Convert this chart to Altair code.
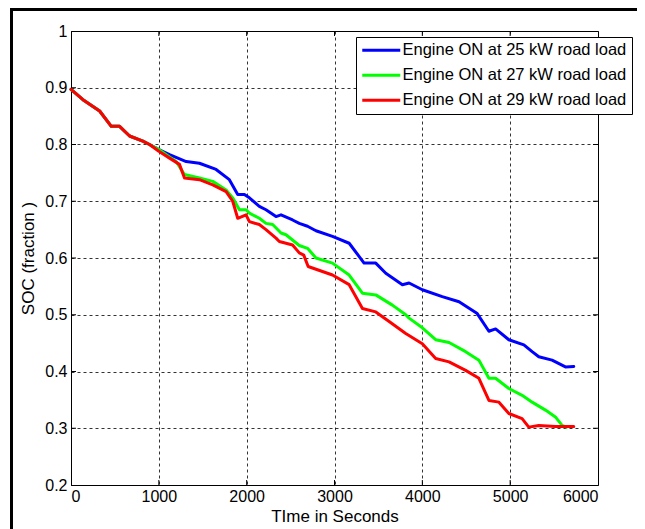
import altair as alt
import pandas as pd

# ---------------- data ----------------
series_names = [
    "Engine ON at 25 kW road load",
    "Engine ON at 27 kW road load",
    "Engine ON at 29 kW road load",
]
series_colors = ["#0000ff", "#00ff00", "#ff0000"]

common_t = [0, 136, 326, 459, 553, 667, 818, 894]
common_soc = [0.897, 0.879, 0.859, 0.832, 0.832, 0.815, 0.806, 0.800]

blue_t = [1000, 1122, 1311, 1462, 1652, 1803, 1898, 1974, 2031, 2144, 2220, 2334, 2391,
          2523, 2599, 2693, 2789, 2977, 3167, 3337, 3470, 3584, 3773, 3849, 4000, 4227,
          4418, 4625, 4758, 4834, 4985, 5156, 5250, 5326, 5477, 5629, 5724]
blue_soc = [0.791, 0.782, 0.770, 0.767, 0.756, 0.738, 0.712, 0.712, 0.706, 0.691, 0.685,
            0.673, 0.676, 0.667, 0.661, 0.656, 0.648, 0.638, 0.626, 0.591, 0.591, 0.573,
            0.553, 0.556, 0.544, 0.532, 0.523, 0.502, 0.471, 0.475, 0.456, 0.447, 0.435,
            0.426, 0.420, 0.408, 0.409]

green_t = [1000, 1122, 1197, 1292, 1462, 1614, 1766, 1841, 1917, 1993, 2031, 2144, 2220,
           2296, 2391, 2448, 2599, 2693, 2789, 2977, 3167, 3318, 3470, 3659, 3811, 3849,
           4000, 4152, 4304, 4493, 4644, 4758, 4834, 4985, 5136, 5250, 5402, 5515, 5591,
           5640]
green_soc = [0.791, 0.778, 0.770, 0.747, 0.741, 0.735, 0.720, 0.706, 0.685, 0.685, 0.679,
             0.670, 0.661, 0.659, 0.644, 0.641, 0.622, 0.617, 0.600, 0.591, 0.570, 0.538,
             0.535, 0.517, 0.500, 0.494, 0.477, 0.456, 0.451, 0.435, 0.420, 0.388, 0.388,
             0.370, 0.358, 0.346, 0.332, 0.320, 0.305, 0.302]

red_t = [1000, 1122, 1235, 1292, 1462, 1614, 1766, 1841, 1898, 1993, 2031, 2144, 2220,
         2334, 2372, 2523, 2599, 2650, 2700, 2977, 3167, 3318, 3470, 3622, 3811, 4000,
         4152, 4304, 4493, 4644, 4758, 4872, 4985, 5136, 5212, 5326, 5515, 5724]
red_soc = [0.788, 0.776, 0.765, 0.741, 0.738, 0.729, 0.717, 0.700, 0.670, 0.676, 0.664,
           0.659, 0.650, 0.635, 0.629, 0.623, 0.609, 0.605, 0.585, 0.570, 0.553, 0.511,
           0.505, 0.488, 0.467, 0.449, 0.423, 0.417, 0.402, 0.388, 0.349, 0.346, 0.326,
           0.317, 0.302, 0.305, 0.303, 0.303]

x_ticks = [0, 1000, 2000, 3000, 4000, 5000, 6000]
y_ticks = [0.2, 0.3, 0.4, 0.5, 0.6, 0.7, 0.8, 0.9, 1.0]

# ---------------- tables ----------------
rows = []
for name, ts, ss in [
    (series_names[0], blue_t, blue_soc),
    (series_names[1], green_t, green_soc),
    (series_names[2], red_t, red_soc),
]:
    all_t = common_t + ts
    all_s = common_soc + ss
    for i, (t, s) in enumerate(zip(all_t, all_s)):
        rows.append({"series": name, "t": t, "soc": s, "order": i})
df = pd.DataFrame(rows)

xt_df = pd.DataFrame({"t": x_ticks[1:-1]})
yt_df = pd.DataFrame({"soc": y_ticks[1:-1]})
one = pd.DataFrame({"a": [0]})

FONT = "Liberation Sans"
W, H = 527, 454

xscale = alt.Scale(domain=[0, 6000], nice=False)
yscale = alt.Scale(domain=[0.2, 1.0], nice=False, zero=False)
xaxis = alt.Axis(title="TIme in Seconds", values=x_ticks, format="d")
yaxis = alt.Axis(title="SOC (fraction )", values=y_ticks, format="~g")

lines = alt.Chart(df).mark_line(strokeWidth=3, strokeJoin="round", strokeCap="round").encode(
    x=alt.X("t:Q", scale=xscale, axis=xaxis),
    y=alt.Y("soc:Q", scale=yscale, axis=yaxis),
    color=alt.Color("series:N",
                    scale=alt.Scale(domain=series_names, range=series_colors),
                    legend=alt.Legend(
                        orient="none", legendX=285, legendY=6, title=None,
                        symbolType="M-3.68,0H16.32", symbolSize=14.44, symbolStrokeWidth=3,
                        labelFont=FONT, labelFontSize=16.5, labelColor="black",
                        labelOffset=25, labelLimit=400, padding=5, rowPadding=8,
                        strokeColor="black", fillColor="white", cornerRadius=0,
                    )),
    order="order:Q",
)

# inward tick marks (MATLAB style)
xt_bottom = alt.Chart(xt_df).mark_rule(color="black", strokeWidth=1).encode(
    x=alt.X("t:Q", scale=xscale, axis=xaxis), y=alt.value(H), y2=alt.value(H - 5))
xt_top = alt.Chart(xt_df).mark_rule(color="black", strokeWidth=1).encode(
    x=alt.X("t:Q", scale=xscale, axis=xaxis), y=alt.value(0), y2=alt.value(5))
yt_left = alt.Chart(yt_df).mark_rule(color="black", strokeWidth=1).encode(
    y=alt.Y("soc:Q", scale=yscale, axis=yaxis), x=alt.value(0), x2=alt.value(5))
yt_right = alt.Chart(yt_df).mark_rule(color="black", strokeWidth=1).encode(
    y=alt.Y("soc:Q", scale=yscale, axis=yaxis), x=alt.value(W), x2=alt.value(W - 5))

# figure frame (left and top edges visible in the reference)
frame_left = alt.Chart(one).mark_rule(color="black", strokeWidth=3).encode(
    x=alt.value(-59.5), y=alt.value(-23), y2=alt.value(H + 60))
frame_top = alt.Chart(one).mark_rule(color="black", strokeWidth=3).encode(
    y=alt.value(-21.5), x=alt.value(-61), x2=alt.value(W + 60))

chart = alt.layer(
    lines, xt_bottom, xt_top, yt_left, yt_right, frame_left, frame_top
).properties(
    width=W, height=H,
    autosize=alt.AutoSizeParams(type="none"),
    padding={"left": 63, "top": 23, "right": 39, "bottom": 44},
    background="white",
).configure_view(
    stroke="black", strokeWidth=1
).configure_axis(
    labelFont=FONT, titleFont=FONT, labelFontSize=16, titleFontSize=17,
    titleFontWeight="normal", labelColor="black", titleColor="black",
    domainColor="black", domainWidth=1, ticks=False,
    grid=True, gridColor="#000000", gridDash=[3, 3], gridOpacity=0.8, gridWidth=1,
).configure_axisX(
    labelPadding=3, titlePadding=4,
).configure_axisY(
    labelPadding=4, titlePadding=7,
)

chart.save("out.html", embed_options={"renderer": "svg", "actions": False})
